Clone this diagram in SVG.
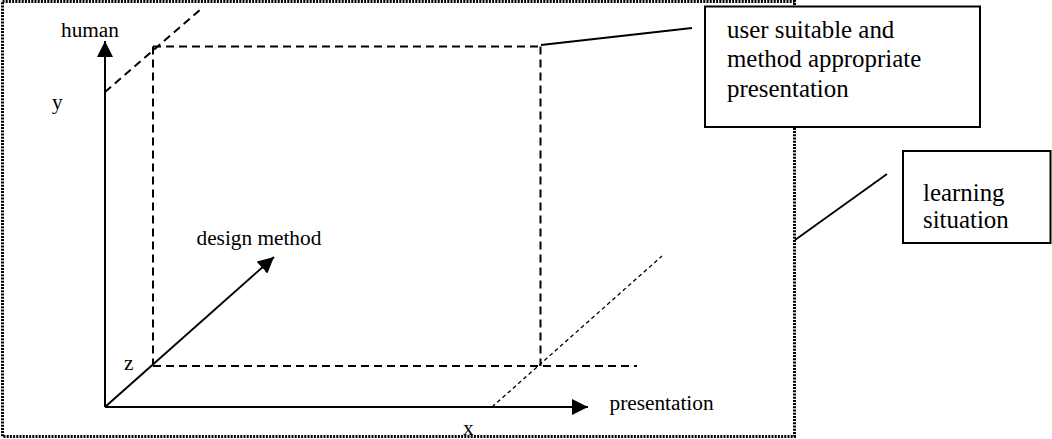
<svg xmlns="http://www.w3.org/2000/svg" width="1052" height="439" viewBox="0 0 1052 439">
<style>
.lbl{font-family:"Liberation Serif","Times New Roman",serif;font-size:21.3px;fill:#000}
.box{font-family:"Liberation Serif","Times New Roman",serif;font-size:24.9px;fill:#000}
.axis{stroke:#000;stroke-width:2;fill:none}
.dash{stroke:#000;stroke-width:2;stroke-dasharray:8 5;fill:none}
.fine{stroke:#000;stroke-width:1.3;stroke-dasharray:4 3;fill:none}
.frame{stroke:#000;stroke-width:3;stroke-dasharray:2 1.2;fill:none}
.callout{stroke:#000;stroke-width:2;fill:#fff}
.lead{stroke:#000;stroke-width:1.8;fill:none}
</style>
<defs>
<marker id="arr" viewBox="0 0 16 16" refX="16" refY="8" markerWidth="16" markerHeight="16" markerUnits="userSpaceOnUse" orient="auto">
<path d="M0,0 L16,8 L0,16 Z" fill="#000"/>
</marker>
</defs>
<g id="frame">
<rect class="frame" x="2.5" y="1.5" width="792" height="435"/>
</g>
<g id="connectors">
<line class="dash" x1="105" y1="92" x2="201" y2="9"/>
<line class="dash" x1="153" y1="46.5" x2="541" y2="46.5"/>
<line class="dash" x1="153" y1="46.5" x2="153" y2="366"/>
<line class="dash" x1="540.5" y1="46.5" x2="540.5" y2="366"/>
<line class="dash" x1="153" y1="366" x2="637" y2="366"/>
<line class="fine" x1="492" y1="407" x2="662" y2="256"/>
<line class="axis" x1="105" y1="407" x2="105" y2="41" marker-end="url(#arr)"/>
<line class="axis" x1="105" y1="407" x2="588" y2="407" marker-end="url(#arr)"/>
<line class="axis" x1="105" y1="407" x2="274" y2="257" marker-end="url(#arr)"/>
<line class="lead" x1="541" y1="45" x2="692" y2="28"/>
<line class="lead" x1="795" y1="240" x2="887" y2="174"/>
</g>
<g id="labels">
<text class="lbl" x="61" y="37">human</text>
<text class="lbl" x="52" y="109">y</text>
<text class="lbl" x="124" y="370">z</text>
<text class="lbl" x="463" y="435">x</text>
<text class="lbl" x="609.5" y="410">presentation</text>
<text class="lbl" x="196.5" y="245">design method</text>
</g>
<g id="node-presentation">
<rect class="callout" x="705" y="6.5" width="275" height="120.5"/>
<text class="box" x="727" y="38">user suitable and</text>
<text class="box" x="727" y="67">method appropriate</text>
<text class="box" x="727" y="96.5">presentation</text>
</g>
<g id="node-learning">
<rect class="callout" x="903" y="151" width="147.5" height="92"/>
<text class="box" x="923" y="200.5">learning</text>
<text class="box" x="923" y="227.5">situation</text>
</g>
</svg>
